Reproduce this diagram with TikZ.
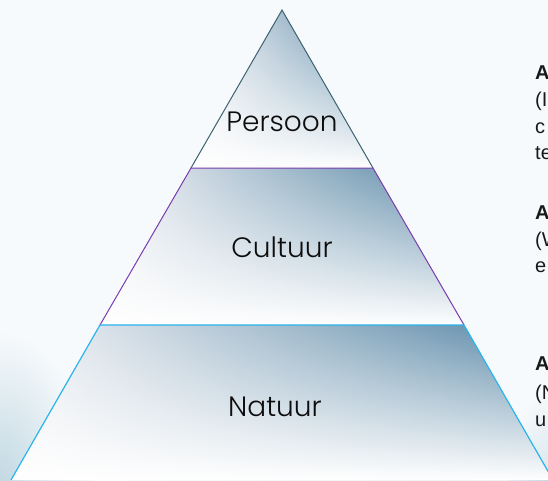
\documentclass[tikz,border=0pt]{standalone}
\usepackage{fontspec}
\setmainfont{Liberation Sans}
\newfontfamily\geo{Poppins Light}
\usetikzlibrary{fadings}
\definecolor{bgc}{HTML}{F7FAFC}
\definecolor{lb}{HTML}{C3D9E3}
\definecolor{tl}{HTML}{F3F3F6}
\definecolor{tm}{HTML}{C0CCD7}
\definecolor{tr}{HTML}{5686A5}
\definecolor{edgeA}{HTML}{3D6272}
\definecolor{edgeB}{HTML}{7A3DB0}
\definecolor{edgeC}{HTML}{2AB4EC}
\tikzfading[name=fadeup, top color=transparent!100, middle color=transparent!72, bottom color=transparent!0]
\tikzset{
  tierfill/.style={left color=tl, middle color=tm, right color=tr},
  whiten/.style={fill=white, path fading=fadeup},
  lbl/.style={font=\geo\fontsize{28}{32}\selectfont, text=black!95},
  side/.style={font=\fontsize{20}{24}\selectfont, anchor=base west, inner sep=0pt, text=black!90},
}
\begin{document}
\begin{tikzpicture}[x=1pt,y=-1pt]
\useasboundingbox (0,0) rectangle (548,480);
\clip (0,0) rectangle (548,480);
\fill[bgc] (0,0) rectangle (548,480);
\shade[inner color=lb, outer color=bgc] (0,480) ellipse [x radius=90, y radius=150];
\shade[inner color=lb!60!bgc, outer color=bgc] (548,480) ellipse [x radius=40, y radius=90];
% tiers
\coordinate (apex) at (282,10);
\coordinate (t1l) at (191,168);
\coordinate (t1r) at (373,168);
\coordinate (t2l) at (100,325);
\coordinate (t2r) at (464,325);
\coordinate (t3l) at (11,480);
\coordinate (t3r) at (553,480);
\path[tierfill] (apex) -- (t1r) -- (t1l) -- cycle;
\path[whiten] (apex) -- (t1r) -- (t1l) -- cycle;
\path[tierfill] (t1l) -- (t1r) -- (t2r) -- (t2l) -- cycle;
\path[whiten] (t1l) -- (t1r) -- (t2r) -- (t2l) -- cycle;
\path[tierfill] (t2l) -- (t2r) -- (t3r) -- (t3l) -- cycle;
\path[whiten] (t2l) -- (t2r) -- (t3r) -- (t3l) -- cycle;
\draw[edgeA, line width=1pt] (t1l) -- (apex) -- (t1r);
\draw[edgeB, line width=1pt] (t2l) -- (t1l) -- (t1r) -- (t2r);
\draw[edgeC, line width=1.2pt] (t3l) -- (t2l) -- (t2r) -- (t3r);
% labels
\node[lbl] (persoon) at (282,122) {Persoon};
\node[lbl] (cultuur) at (282,247) {Cultuur};
\node[lbl] (natuur) at (275,407) {Natuur};
% side texts
\node[side, font=\fontsize{20}{24}\selectfont\bfseries] (a1) at (535,79) {A};
\node[side] (a1b) at (535,106) {(I};
\node[side] (a1c) at (535,133) {c};
\node[side] (a1d) at (535,159) {te};
\node[side, font=\fontsize{20}{24}\selectfont\bfseries] (a2) at (535,219) {A};
\node[side] (a2b) at (535,246) {(W};
\node[side] (a2c) at (535,272) {e};
\node[side, font=\fontsize{20}{24}\selectfont\bfseries] (a3) at (535,370) {A};
\node[side] (a3b) at (535,399) {(N};
\node[side] (a3c) at (535,426) {u};
\end{tikzpicture}
\end{document}
